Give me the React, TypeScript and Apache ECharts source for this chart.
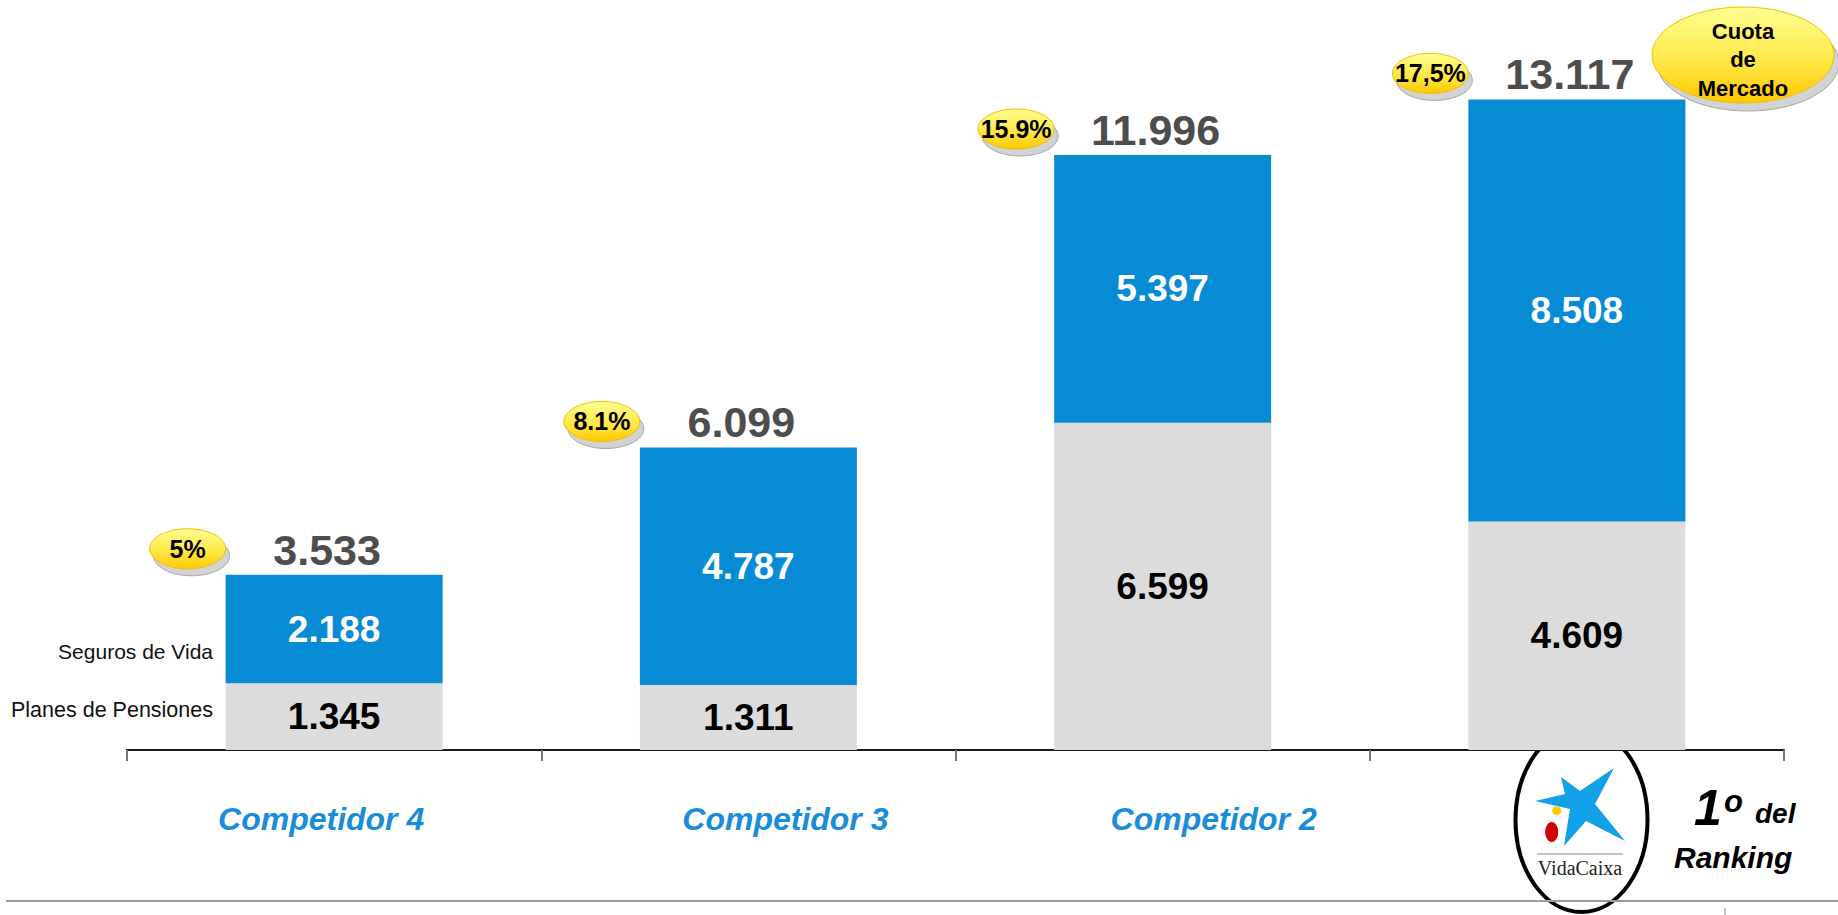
import React, { useEffect, useRef } from "react";
import * as echarts from "echarts";

const categories = ["Competidor 4", "Competidor 3", "Competidor 2", "VidaCaixa"];
const seriesNames = ["Planes de Pensiones", "Seguros de Vida"];
const planesPensiones = [1345, 1311, 6599, 4609];
const segurosVida = [2188, 4787, 5397, 8508];
const totals = [3533, 6099, 11996, 13117];
const marketShare = ["5%", "8.1%", "15.9%", "17,5%"];
const shareTitle = ["Cuota", "de", "Mercado"];
const rankingText = ["1", "o", "del", "Ranking"];

// label horizontal shifts (style only)
const labelShift = [-13, 37, 51, 0];

const FONT = "'Liberation Sans', Arial, sans-serif";
const BLUE = "#078bd5";
const GRAY = "#dcdcdc";
const BAR_W = 217;

const fmt = (v: number) => String(v).replace(/\B(?=(\d{3})+(?!\d))/g, ".");

const yellowGrad = () =>
  new echarts.graphic.LinearGradient(0, 0, 0, 1, [
    { offset: 0, color: "#ffff90" },
    { offset: 0.55, color: "#ffe84a" },
    { offset: 1, color: "#ffc800" },
  ]);

export default function App() {
  const ref = useRef<HTMLDivElement>(null);

  useEffect(() => {
    if (!ref.current) return;
    const chart = echarts.init(ref.current, null, { renderer: "svg" });

    const badgeData = totals.map((t, i) => [i, t]);

    const option: any = {
      animation: false,
      backgroundColor: "#ffffff",
      grid: { left: 127, right: 54, top: 6, bottom: 165 },
      xAxis: {
        type: "category",
        data: categories.map((c, i) => ({
          value: c,
          textStyle: {
            padding: labelShift[i] >= 0 ? [0, 0, 0, labelShift[i] * 2] : [0, -labelShift[i] * 2, 0, 0],
          },
        })),
        axisLine: { lineStyle: { color: "#1a1a1a", width: 2 } },
        axisTick: { show: true, length: 11, lineStyle: { color: "#777", width: 2 } },
        axisLabel: {
          margin: 53,
          color: "#1a8cd8",
          fontSize: 32,
          fontWeight: "bold",
          fontStyle: "italic",
          fontFamily: FONT,
          formatter: (v: string, i: number) => (i === categories.length - 1 ? "" : v),
        },
      },
      yAxis: { type: "value", min: 0, max: 15000, show: false, splitLine: { show: false } },
      series: [
        {
          name: seriesNames[0],
          type: "bar",
          stack: "total",
          barWidth: BAR_W,
          data: planesPensiones,
          itemStyle: { color: GRAY },
          label: {
            show: true,
            position: "inside",
            formatter: (p: any) => fmt(p.value),
            color: "#000",
            fontSize: 37,
            fontWeight: "bold",
            fontFamily: FONT,
          },
        },
        {
          name: seriesNames[1],
          type: "bar",
          stack: "total",
          barWidth: BAR_W,
          data: segurosVida,
          itemStyle: { color: BLUE },
          label: {
            show: true,
            position: "inside",
            formatter: (p: any) => fmt(p.value),
            color: "#fff",
            fontSize: 37,
            fontWeight: "bold",
            fontFamily: FONT,
          },
        },
        {
          type: "custom",
          z: 10,
          data: badgeData,
          renderItem: (params: any, api: any) => {
            const i = params.dataIndex;
            const t = api.value(1);
            const pt = api.coord([i, t]);
            const left = pt[0] - BAR_W / 2;
            const bx = left - 38;
            const by = pt[1] - 26;
            return {
              type: "group",
              children: [
                {
                  type: "ellipse",
                  shape: { cx: bx + 4, cy: by + 7, rx: 38, ry: 20 },
                  style: { fill: "#d2d2d2", stroke: "#a8a8a8", lineWidth: 1 },
                },
                {
                  type: "ellipse",
                  shape: { cx: bx, cy: by, rx: 38, ry: 20 },
                  style: { fill: yellowGrad(), stroke: "#f0c000", lineWidth: 1 },
                },
                {
                  type: "text",
                  style: {
                    text: marketShare[i],
                    x: bx,
                    y: by,
                    align: "center",
                    verticalAlign: "middle",
                    fill: "#000",
                    fontSize: 25,
                    fontWeight: "bold",
                    fontFamily: FONT,
                  },
                },
                {
                  type: "text",
                  style: {
                    text: fmt(totals[i]),
                    x: pt[0] - 7,
                    y: pt[1] - 25,
                    align: "center",
                    verticalAlign: "middle",
                    fill: "#4d4d4d",
                    fontSize: 43,
                    fontWeight: "bold",
                    fontFamily: FONT,
                  },
                },
              ],
            };
          },
        },
      ],
      graphic: [
        // series name labels
        {
          type: "text",
          style: {
            text: seriesNames[1],
            x: 213,
            y: 651,
            align: "right",
            verticalAlign: "middle",
            fill: "#111",
            fontSize: 21,
            fontFamily: FONT,
          },
        },
        {
          type: "text",
          style: {
            text: seriesNames[0],
            x: 213,
            y: 710,
            align: "right",
            verticalAlign: "middle",
            fill: "#111",
            fontSize: 21.5,
            fontFamily: FONT,
          },
        },
        // Cuota de Mercado badge
        {
          type: "ellipse",
          shape: { cx: 1748, cy: 63, rx: 91, ry: 48 },
          style: { fill: "#d2d2d2", stroke: "#a8a8a8", lineWidth: 1 },
        },
        {
          type: "ellipse",
          shape: { cx: 1743, cy: 55, rx: 91, ry: 48 },
          style: { fill: yellowGrad(), stroke: "#f0c000", lineWidth: 1 },
        },
        ...shareTitle.map((s, k) => ({
          type: "text",
          style: {
            text: s,
            x: 1743,
            y: 31 + k * 28.5,
            align: "center",
            verticalAlign: "middle",
            fill: "#000",
            fontSize: 22,
            fontWeight: "bold",
            fontFamily: FONT,
          },
        })),
        // VidaCaixa logo
        {
          type: "polygon",
          shape: {
            points: [
              [1561, 777],
              [1580, 791],
              [1614, 768],
              [1595, 804],
              [1625, 841],
              [1586, 821],
              [1564, 846],
              [1570, 809],
              [1535, 801],
              [1565, 794],
            ],
          },
          style: { fill: "#12a0e8" },
        },
        { type: "circle", shape: { cx: 1556.7, cy: 810.7, r: 4.5 }, style: { fill: "#ffcc00" } },
        { type: "ellipse", shape: { cx: 1551.7, cy: 832, rx: 6.5, ry: 10 }, style: { fill: "#d40000" } },
        {
          type: "line",
          shape: { x1: 1537, y1: 854, x2: 1623, y2: 854 },
          style: { stroke: "#888", lineWidth: 1 },
        },
        {
          type: "text",
          style: {
            text: categories[3],
            x: 1580,
            y: 868,
            align: "center",
            verticalAlign: "middle",
            fill: "#222",
            fontSize: 20,
            fontFamily: "'Liberation Serif', 'Times New Roman', serif",
          },
        },
        {
          type: "ellipse",
          shape: { cx: 1581.5, cy: 820, rx: 66, ry: 92 },
          style: { fill: "none", stroke: "#000", lineWidth: 4 },
        },
        // 1º del Ranking
        {
          type: "text",
          style: {
            text: rankingText[0],
            x: 1694,
            y: 808,
            align: "left",
            verticalAlign: "middle",
            fill: "#000",
            fontSize: 50,
            fontWeight: "bold",
            fontStyle: "italic",
            fontFamily: FONT,
          },
        },
        {
          type: "text",
          style: {
            text: rankingText[1],
            x: 1724,
            y: 801,
            align: "left",
            verticalAlign: "middle",
            fill: "#000",
            fontSize: 31,
            fontWeight: "bold",
            fontStyle: "italic",
            fontFamily: FONT,
          },
        },
        {
          type: "text",
          style: {
            text: rankingText[2],
            x: 1755,
            y: 813,
            align: "left",
            verticalAlign: "middle",
            fill: "#000",
            fontSize: 28,
            fontWeight: "bold",
            fontStyle: "italic",
            fontFamily: FONT,
          },
        },
        {
          type: "text",
          style: {
            text: rankingText[3],
            x: 1674,
            y: 857,
            align: "left",
            verticalAlign: "middle",
            fill: "#000",
            fontSize: 30,
            fontWeight: "bold",
            fontStyle: "italic",
            fontFamily: FONT,
          },
        },
        // bottom rule
        {
          type: "line",
          shape: { x1: 6, y1: 901, x2: 1838, y2: 901 },
          style: { stroke: "#9a9a9a", lineWidth: 2 },
        },
        {
          type: "line",
          shape: { x1: 1725, y1: 908, x2: 1725, y2: 915 },
          style: { stroke: "#888", lineWidth: 1 },
        },
      ],
    };

    chart.setOption(option);
    return () => chart.dispose();
  }, []);

  return (
    <div
      ref={ref}
      style={{ position: "fixed", left: 0, top: 0, width: 1838, height: 915, background: "#fff" }}
    />
  );
}
